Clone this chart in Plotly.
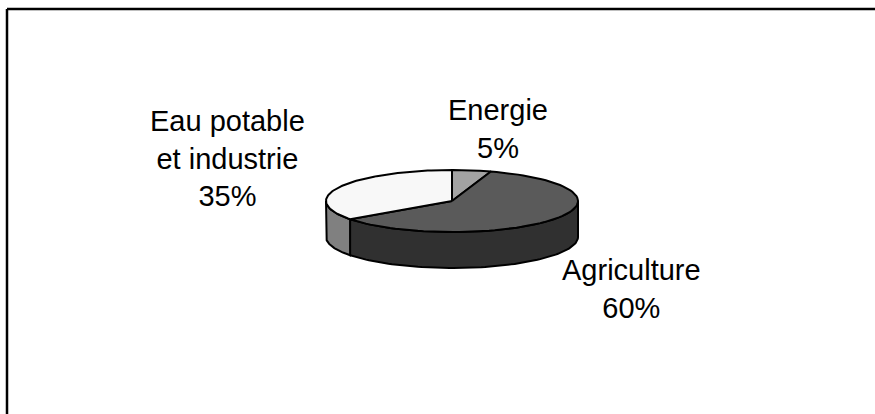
import numpy as np
import plotly.graph_objects as go

# Water use by sector (share of total, %)
labels = ["Energie", "Agriculture", "Eau potable<br>et industrie"]
values = [5, 60, 35]
top_colors = ["#a3a3a3", "#5a5a5a", "#f8f8f8"]
side_colors = ["#6e6e6e", "#303030", "#808080"]

W, H = 875, 414
# Pie geometry in pixel space (ellipse seen in perspective)
cx, cy, rx, ry, depth = 452, 201, 126, 31, 36

def pt(theta_deg, dy=0.0):
    t = np.radians(theta_deg)
    return cx + rx * np.sin(t), cy - ry * np.cos(t) + dy

def arc(a0, a1, dy=0.0, n=80):
    th = np.linspace(a0, a1, n)
    xs, ys = pt(th, dy)
    return list(xs), list(ys)

fig = go.Figure()

total = float(sum(values))
bounds = []
start = 0.0
for v in values:
    end = start + 360.0 * v / total
    bounds.append((start, end))
    start = end

# Front-facing rims (visible between 90 and 270 degrees clockwise from top)
for (a0, a1), col in zip(bounds, side_colors):
    s, e = max(a0, 90.0), min(a1, 270.0)
    if e <= s:
        continue
    tx, ty = arc(s, e)
    bx, by = arc(e, s, dy=depth)
    fig.add_trace(go.Scatter(
        x=tx + bx + [tx[0]], y=ty + by + [ty[0]],
        mode="lines", fill="toself", fillcolor=col,
        line=dict(color="black", width=2),
        hoverinfo="skip", showlegend=False))

# Top faces of the slices
for (a0, a1), col in zip(bounds, top_colors):
    ax, ay = arc(a0, a1)
    fig.add_trace(go.Scatter(
        x=[cx] + ax + [cx], y=[cy] + ay + [cy],
        mode="lines", fill="toself", fillcolor=col,
        line=dict(color="black", width=2),
        hoverinfo="skip", showlegend=False))

# Data labels: name and percentage
label_pos = [(498, 129), (631, 289), (227, 158)]
for lab, v, (lx, ly) in zip(labels, values, label_pos):
    fig.add_annotation(
        x=lx, y=ly, xref="x", yref="y",
        text=f"{lab}<br>{v}%", showarrow=False,
        xanchor="center", yanchor="middle", align="center",
        font=dict(family="Liberation Sans, Arial, sans-serif", size=29, color="black"))

# Chart area frame (top and left edges)
fig.add_shape(type="line", xref="x", yref="y", x0=7, y0=9, x1=W, y1=9,
              line=dict(color="black", width=2.5))
fig.add_shape(type="line", xref="x", yref="y", x0=7, y0=9, x1=7, y1=H,
              line=dict(color="black", width=2.5))

fig.update_layout(
    width=W, height=H,
    margin=dict(l=0, r=0, t=0, b=0),
    paper_bgcolor="white", plot_bgcolor="white",
    xaxis=dict(range=[0, W], visible=False, fixedrange=True),
    yaxis=dict(range=[H, 0], visible=False, fixedrange=True),
    showlegend=False,
)

fig.write_html("out.html")
